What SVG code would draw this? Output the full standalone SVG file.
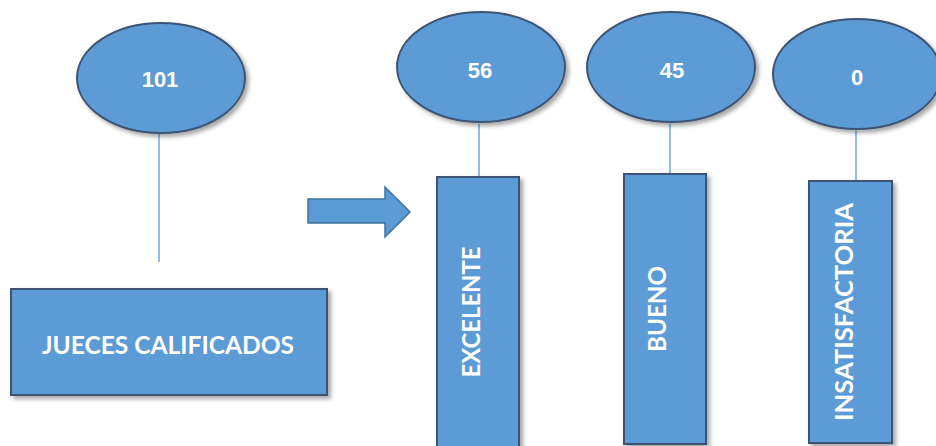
<svg xmlns="http://www.w3.org/2000/svg" width="936" height="446" viewBox="0 0 936 446">
<defs>
<filter id="sh" x="-20%" y="-20%" width="150%" height="150%">
<feDropShadow dx="3" dy="3" stdDeviation="2" flood-color="#000" flood-opacity="0.35"/>
</filter>
<style>
.shape{fill:#5b9bd5;stroke:#3e5373;stroke-width:2;filter:url(#sh)}
.arrow{fill:#5b9bd5;stroke:#41719c;stroke-width:1.5}
.conn{stroke:#6fa8dc;stroke-width:1.5;fill:none}
.num{font-family:"Liberation Sans",Arial,sans-serif;font-weight:bold;font-size:22px;fill:#fff;text-anchor:middle;dominant-baseline:central}
.lbl{font-family:Lato,"Liberation Sans",sans-serif;font-weight:bold;font-size:25px;fill:#fff;text-anchor:middle;dominant-baseline:central}
</style>
</defs>
<rect width="936" height="446" fill="#fff"/>
<g id="connectors">
<line class="conn" x1="159" y1="134" x2="159" y2="262"/>
<line class="conn" x1="479" y1="124" x2="479" y2="177"/>
<line class="conn" x1="670" y1="124" x2="670" y2="174"/>
<line class="conn" x1="856" y1="131" x2="856" y2="181"/>
</g>
<g id="arrow">
<path class="arrow" d="M308,199 H385 V187 L410,212 L385,237 V223 H308 Z"/>
</g>
<g id="n101">
<ellipse class="shape" cx="161" cy="78" rx="84" ry="55"/>
<text class="num" x="160" y="79">101</text>
</g>
<g id="jueces">
<rect class="shape" x="11" y="289" width="316" height="106"/>
<text class="lbl" x="168" y="344" textLength="252" lengthAdjust="spacingAndGlyphs">JUECES CALIFICADOS</text>
</g>
<g id="n56">
<ellipse class="shape" cx="481" cy="67" rx="84" ry="55"/>
<text class="num" x="480" y="70">56</text>
</g>
<g id="excelente">
<rect class="shape" x="437" y="177" width="82" height="275"/>
<text class="lbl" transform="translate(470,312) rotate(-90)" textLength="131" lengthAdjust="spacingAndGlyphs">EXCELENTE</text>
</g>
<g id="n45">
<ellipse class="shape" cx="671" cy="67" rx="84" ry="55"/>
<text class="num" x="672" y="70">45</text>
</g>
<g id="bueno">
<rect class="shape" x="624" y="174" width="82" height="270"/>
<text class="lbl" transform="translate(656,309) rotate(-90)" textLength="86" lengthAdjust="spacingAndGlyphs">BUENO</text>
</g>
<g id="n0">
<ellipse class="shape" cx="857" cy="74" rx="84" ry="55"/>
<text class="num" x="857" y="77">0</text>
</g>
<g id="insatisfactoria">
<rect class="shape" x="809" y="181" width="83" height="262"/>
<text class="lbl" transform="translate(843,312) rotate(-90)" textLength="218" lengthAdjust="spacingAndGlyphs">INSATISFACTORIA</text>
</g>
</svg>
